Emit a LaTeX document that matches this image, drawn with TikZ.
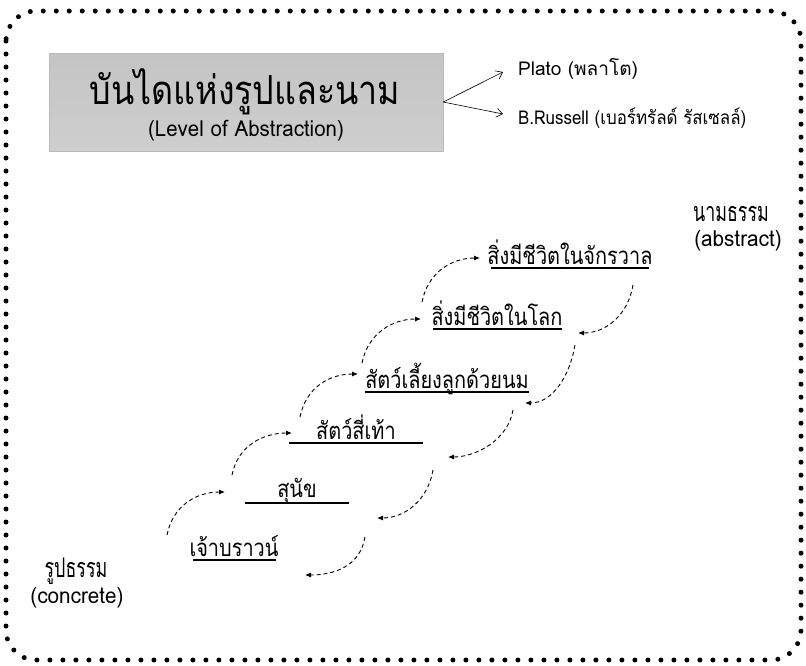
\documentclass[tikz,border=0pt]{standalone}
\usepackage{fontspec}
\setmainfont[Script=Thai]{Loma}
\usetikzlibrary{arrows.meta}
\tikzset{
  item/.style={inner sep=0pt, anchor=base, font=\fontsize{24}{26}\selectfont},
  ul/.style={line width=1.5pt},
  dasharrow/.style={dash pattern=on 4pt off 3pt, line width=0.9pt, -{Latex[length=6pt,width=5pt]}},
  lbl/.style={inner sep=0pt, anchor=base, font=\fontsize{22}{24}\selectfont},
  lblthai/.style={inner sep=0pt, anchor=base, font=\fontsize{27}{29}\selectfont},
  side/.style={inner sep=0pt, anchor=base west, font=\fontsize{19}{21}\selectfont},
}
\begin{document}
\begin{tikzpicture}[x=1pt,y=-1pt]
\useasboundingbox (0,0) rectangle (806,665);
% border
\draw[line width=5pt, line cap=round, dash pattern=on 0pt off 13pt, rounded corners=30pt] (6,11) rectangle (801,660);
% title box
\node[draw=gray!55, top color={rgb,255:red,196;green,196;blue,196}, bottom color={rgb,255:red,206;green,206;blue,206}, minimum width=394pt, minimum height=98pt, inner sep=0pt] (box) at (246,102) {};
\node[inner sep=0pt, anchor=base, font=\fontsize{40}{44}\selectfont] (title) at (245,104) {\scalebox{0.85}[1]{บันไดแห่งรูปและนาม}};
\node[inner sep=0pt, anchor=base, font=\fontsize{22}{24}\selectfont] (sub) at (246,136) {\scalebox{0.93}[1]{(Level of Abstraction)}};
% side labels
\coordinate (bx) at (box.east);
\coordinate (p1) at (503,72);
\coordinate (p2) at (503,114);
\draw[line width=0.6pt, -{Straight Barb[length=6pt,width=9pt]}] (bx) -- (p1);
\draw[line width=0.6pt, -{Straight Barb[length=6pt,width=9pt]}] (bx) -- (p2);
\node[side] (plato) at (518,75) {Plato (พลาโต)};
\node[side] (russ) at (518,124) {\scalebox{0.89}[1]{B.Russell (เบอร์ทรัลด์ รัสเซลล์)}};
% abstract / concrete
\node[lblthai] (abs1) at (731,221) {\scalebox{0.66}[1]{นามธรรม}};
\node[lbl] (abs2) at (738,246) {\scalebox{0.94}[1]{(abstract)}};
\node[lblthai] (con1) at (76,577) {\scalebox{0.66}[1]{รูปธรรม}};
\node[lbl] (con2) at (77,603) {\scalebox{0.94}[1]{(concrete)}};
% items
\node[item] (i1) at (570,264) {\scalebox{0.83}[1]{สิ่งมีชีวิตในจักรวาล}};
\node[item] (i2) at (497,325) {\scalebox{0.83}[1]{สิ่งมีชีวิตในโลก}};
\node[item] (i3) at (447,388) {\scalebox{0.83}[1]{สัตว์เลี้ยงลูกด้วยนม}};
\node[item] (i4) at (356,439) {\scalebox{0.83}[1]{สัตว์สี่เท้า}};
\node[item] (i5) at (297,497) {\scalebox{0.83}[1]{สุนัข}};
\node[item] (i6) at (234,556) {\scalebox{0.83}[1]{เจ้าบราวน์}};
\draw[ul] (491,268) -- (649,268);
\draw[ul] (433,329) -- (562,329);
\draw[ul] (365,392) -- (529,392);
\draw[ul] (289,443) -- (423,443);
\draw[ul] (245,503) -- (349,503);
\draw[ul] (193,560) -- (276,560);
% left (up) arrows
\coordinate (l1s) at (167,535); \coordinate (l1t) at (225,492);
\coordinate (l2s) at (232,475); \coordinate (l2t) at (292,433);
\coordinate (l3s) at (300,417); \coordinate (l3t) at (358,374);
\coordinate (l4s) at (362,363); \coordinate (l4t) at (421,319);
\coordinate (l5s) at (422,302); \coordinate (l5t) at (480,258);
\foreach \a in {1,...,5}{
  \draw[dasharrow] (l\a s) .. controls +(6,-30) and +(-28,0) .. (l\a t);
}
% right (down) arrows
\coordinate (r1s) at (633,285); \coordinate (r1t) at (578,333);
\coordinate (r2s) at (575,345); \coordinate (r2t) at (525,403);
\coordinate (r3s) at (513,410); \coordinate (r3t) at (448,457);
\coordinate (r4s) at (433,470); \coordinate (r4t) at (377,518);
\coordinate (r5s) at (365,537); \coordinate (r5t) at (305,575);
\foreach \a in {1,...,5}{
  \draw[dasharrow] (r\a s) .. controls +(-5,30) and +(28,0) .. (r\a t);
}
\end{tikzpicture}
\end{document}
